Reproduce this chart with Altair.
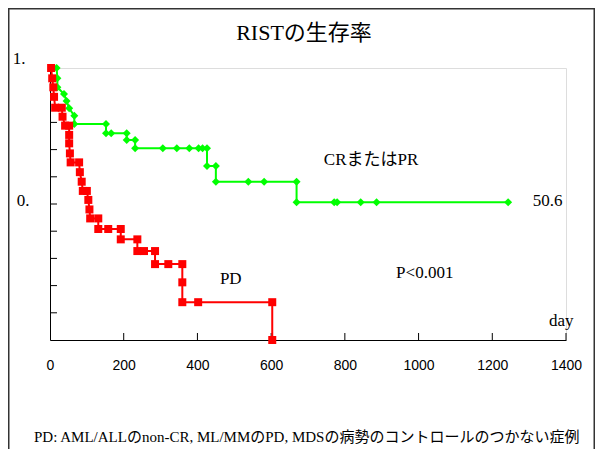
import altair as alt
import pandas as pd

# ---- data ----
green_days = [18, 20, 20, 38, 45, 52, 66, 66, 152, 152, 166, 208, 208, 231, 231,
              306, 344, 378, 403, 414, 426, 426, 450, 450, 538, 581, 669, 669,
              771, 779, 843, 886, 1243]
green_surv = [1.0, 0.962, 0.929, 0.904, 0.879, 0.852, 0.824, 0.794, 0.794, 0.76,
              0.76, 0.76, 0.735, 0.735, 0.705, 0.705, 0.705, 0.705, 0.705, 0.705,
              0.705, 0.64, 0.64, 0.582, 0.582, 0.582, 0.582, 0.506, 0.506, 0.506,
              0.506, 0.506, 0.506]
red_days = [3, 6, 9, 11, 14, 32, 34, 41, 52, 52, 52, 54, 56, 79, 81, 86, 89, 100,
            104, 107, 109, 131, 131, 158, 192, 192, 237, 237, 255, 285, 285, 321,
            359, 359, 359, 402, 603, 603]
red_surv = [1.0, 0.962, 0.929, 0.894, 0.854, 0.854, 0.821, 0.788, 0.788, 0.754,
            0.723, 0.686, 0.653, 0.653, 0.617, 0.582, 0.548, 0.548, 0.515, 0.48,
            0.447, 0.447, 0.408, 0.408, 0.408, 0.37, 0.37, 0.327, 0.327, 0.327,
            0.279, 0.279, 0.279, 0.212, 0.139, 0.139, 0.139, 0.0]
x_ticks = [0, 200, 400, 600, 800, 1000, 1200, 1400]
y_ticks = [0.1, 0.2, 0.3, 0.4, 0.5, 0.6, 0.7, 0.8, 0.9, 1.0]
y_labels = ["1.", "0."]
y_label_vals = [1.0, 0.5]

title_text = "RISTの生存率"
footer_text = "PD: AML/ALLのnon-CR,  ML/MMのPD, MDSの病勢のコントロールのつかない症例"
annot_text = ["CRまたはPR", "50.6", "PD", "P<0.001", "day"]
annot_day = [743, 1310, 461, 939, 1354]
annot_surv = [0.662, 0.511, 0.224, 0.246, 0.07]

SERIF = "Liberation Serif, Noto Sans CJK JP"
W, H = 516, 272

green = pd.DataFrame({"day": green_days, "surv": green_surv, "i": range(len(green_days))})
red = pd.DataFrame({"day": red_days, "surv": red_surv, "i": range(len(red_days))})

xs = alt.Scale(domain=[0, 1400], nice=False, zero=False)
ys = alt.Scale(domain=[0, 1], nice=False)

X = alt.X("day:Q", scale=xs, axis=alt.Axis(values=x_ticks, ticks=False, grid=False,
          domainColor="black", domainWidth=1, labelFont="Liberation Sans",
          labelFontSize=14, labelColor="black", labelPadding=18, title=None,
          labelFlush=False, format="d"))
Y = alt.Y("surv:Q", scale=ys, axis=alt.Axis(labels=False, ticks=False, grid=False,
          domainColor="black", domainWidth=1, title=None))

g_line = alt.Chart(green).mark_line(color="#00ff00", strokeWidth=2).encode(
    x=X, y=Y, order="i:Q")
g_pts = alt.Chart(green).mark_point(shape="diamond", filled=True, color="#00ff00",
                                    size=64, opacity=1).encode(
    x=alt.X("day:Q", scale=xs), y=alt.Y("surv:Q", scale=ys))
r_line = alt.Chart(red).mark_line(color="#ff0000", strokeWidth=2).encode(
    x=alt.X("day:Q", scale=xs), y=alt.Y("surv:Q", scale=ys), order="i:Q")
r_pts = alt.Chart(red).mark_point(shape="square", filled=True, color="#ff0000",
                                  size=64, opacity=1).encode(
    x=alt.X("day:Q", scale=xs), y=alt.Y("surv:Q", scale=ys))

xt = alt.Chart(pd.DataFrame({"t": x_ticks[1:]})).mark_rule(color="black", strokeWidth=1).encode(
    x=alt.X("t:Q", scale=xs), y=alt.value(H), y2=alt.value(H - 7))
yt = alt.Chart(pd.DataFrame({"t": y_ticks})).mark_rule(color="black", strokeWidth=1).encode(
    y=alt.Y("t:Q", scale=ys), x=alt.value(0), x2=alt.value(7))

ylab_offsets = [(-31, -9), (-27, -3)]
ylabs = []
for s, v, (dx, dy) in zip(y_labels, y_label_vals, ylab_offsets):
    ylabs.append(alt.Chart(pd.DataFrame({"v": [v], "s": [s]})).mark_text(
        font=SERIF, fontSize=17, color="black", baseline="middle", align="center",
        dx=dx, dy=dy).encode(y=alt.Y("v:Q", scale=ys), x=alt.value(0), text="s:N"))

annot = alt.Chart(pd.DataFrame({"d": annot_day, "s": annot_surv, "t": annot_text})
                  ).mark_text(font=SERIF, fontSize=17, color="black", align="left",
                              baseline="middle").encode(
    x=alt.X("d:Q", scale=xs), y=alt.Y("s:Q", scale=ys), text="t:N")

one = pd.DataFrame({"a": [0]})
title = alt.Chart(one).mark_text(text=title_text, font=SERIF, fontSize=22, color="black",
                                 align="center", baseline="middle").encode(
    x=alt.value(254), y=alt.value(-35))
footer = alt.Chart(one).mark_text(text=footer_text, font=SERIF, fontSize=15, color="black",
                                  align="left", baseline="middle").encode(
    x=alt.value(-16), y=alt.value(369))
frame = alt.Chart(one).mark_rect(fill=None, stroke="#333333", strokeWidth=1.5).encode(
    x=alt.value(-41.25), x2=alt.value(W + 28.25), y=alt.value(-59.25), y2=alt.value(H + 160))

chart = alt.layer(frame, xt, yt, g_line, g_pts, r_line, r_pts, *ylabs, annot, title, footer
                  ).properties(width=W, height=H,
                               autosize=alt.AutoSizeParams(type="none"),
                               padding={"left": 42, "top": 60, "right": 29, "bottom": 109}
                  ).configure_view(stroke=None).configure(background="white")

chart.save("out.html", embed_options={"renderer": "svg", "actions": False})
